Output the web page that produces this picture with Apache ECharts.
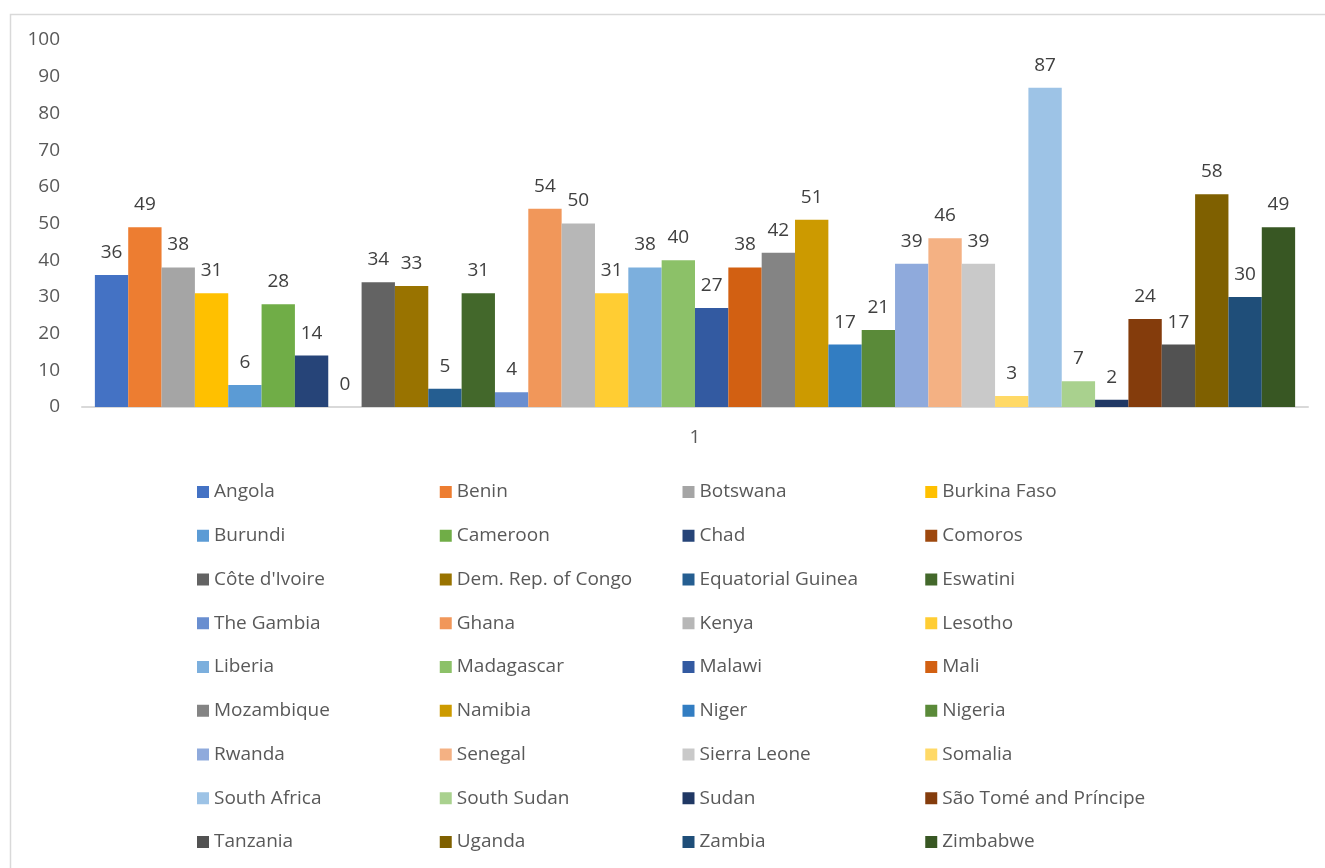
<!DOCTYPE html>
<html>
<head>
<meta charset="utf-8">
<script src="https://cdn.jsdelivr.net/npm/echarts@6/dist/echarts.min.js"></script>
<style>
  html, body { margin: 0; padding: 0; background: #fff; }
  #chart { width: 1325px; height: 868px; }
</style>
</head>
<body>
<div id="chart"></div>
<script>
const chart = echarts.init(document.getElementById("chart"), null, { renderer: "canvas" });

const categories = ["1"];

const countries = [
  "Angola", "Benin", "Botswana", "Burkina Faso",
  "Burundi", "Cameroon", "Chad", "Comoros",
  "Côte d'Ivoire", "Dem. Rep. of Congo", "Equatorial Guinea", "Eswatini",
  "The Gambia", "Ghana", "Kenya", "Lesotho",
  "Liberia", "Madagascar", "Malawi", "Mali",
  "Mozambique", "Namibia", "Niger", "Nigeria",
  "Rwanda", "Senegal", "Sierra Leone", "Somalia",
  "South Africa", "South Sudan", "Sudan", "São Tomé and Príncipe",
  "Tanzania", "Uganda", "Zambia", "Zimbabwe"
];

const values = [
  36, 49, 38, 31,
  6, 28, 14, 0,
  34, 33, 5, 31,
  4, 54, 50, 31,
  38, 40, 27, 38,
  42, 51, 17, 21,
  39, 46, 39, 3,
  87, 7, 2, 24,
  17, 58, 30, 49
];

const colors = [
  "#4472C4", "#ED7D31", "#A5A5A5", "#FFC000",
  "#5B9BD5", "#70AD47", "#264478", "#9E480E",
  "#636363", "#997300", "#255E91", "#43682B",
  "#698ED0", "#F1975A", "#B7B7B7", "#FFCD33",
  "#7CAFDD", "#8CC168", "#335AA1", "#D26012",
  "#848484", "#CC9A00", "#327DC2", "#5A8A39",
  "#8FAADC", "#F4B183", "#C9C9C9", "#FFD966",
  "#9DC3E6", "#A9D18E", "#203864", "#843C0C",
  "#525252", "#7F6000", "#1F4E79", "#385723"
];

const yTicks = { min: 0, max: 100, interval: 10 };

const fontFamily = "'Open Sans', 'Noto Sans', sans-serif";

const series = countries.map((name, i) => ({
  name: name,
  type: "bar",
  data: [values[i]],
  barGap: "0%",
  barCategoryGap: "2.1%",
  itemStyle: { color: colors[i] },
  label: {
    show: true,
    position: "top",
    distance: 13,
    color: "#404040",
    fontSize: 19,
    fontFamily: fontFamily,
  },
}));

const option = {
  animation: false,
  backgroundColor: "#fff",
  color: colors,
  graphic: [
    {
      type: "rect",
      left: 8,
      top: 12,
      shape: { width: 1340, height: 880 },
      style: { fill: "none", stroke: "#d9d9d9", lineWidth: 1.5 },
      silent: true,
    },
  ],
  grid: {
    left: 82,
    right: 17,
    top: 40,
    bottom: 461,
    containLabel: false,
  },
  xAxis: {
    type: "category",
    data: categories,
    axisLine: { show: true, lineStyle: { color: "#d9d9d9", width: 2 } },
    axisTick: { show: false },
    axisLabel: {
      color: "#595959",
      fontSize: 19,
      fontFamily: fontFamily,
      margin: 21,
    },
  },
  yAxis: {
    type: "value",
    min: yTicks.min,
    max: yTicks.max,
    interval: yTicks.interval,
    axisLine: { show: false },
    axisTick: { show: false },
    splitLine: { show: false },
    axisLabel: {
      color: "#595959",
      fontSize: 19,
      fontFamily: fontFamily,
      margin: 22,
    },
  },
  legend: {
    data: countries,
    left: 192,
    top: 475,
    width: 980,
    orient: "horizontal",
    icon: "rect",
    itemWidth: 12,
    itemHeight: 12,
    itemGap: 19.75,
    textStyle: {
      color: "#595959",
      fontSize: 19,
      fontFamily: fontFamily,
      width: 206,
      lineHeight: 24,
    },
  },
  series: series,
};

chart.setOption(option);

window.addEventListener("resize", function () {
  chart.resize();
});
</script>
</body>
</html>
